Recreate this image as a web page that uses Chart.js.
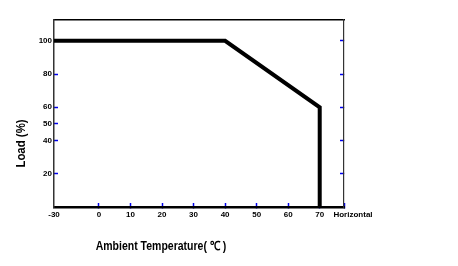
<!DOCTYPE html>
<html>
<head>
<meta charset="utf-8">
<script src="https://cdn.jsdelivr.net/npm/chart.js@4/dist/chart.umd.min.js"></script>
<style>
  html, body { margin: 0; padding: 0; background: #fff; }
  canvas { display: block; }
</style>
</head>
<body>
<canvas id="c" width="458" height="266"></canvas>
<script>
// ---- data ----
const xTickLabels = ['-30', '0', '10', '20', '30', '40', '50', '60', '70'];
const yTickValues = [20, 40, 50, 60, 80, 100];
const yRightTicks = [20, 40, 60, 80, 100];
const tempC   = [-30, 40, 70, 70];   // ambient temperature (°C)
const loadPct = [100, 100, 60, 0];   // load (%)

// broken x axis: the -30 end is drawn compressed at the axis start
const X_AXIS_START = -14.25;
const X_AXIS_END = 77.7;
const Y_MAX = 112.5;
const xPos = v => (v < 0 ? v * X_AXIS_START / -30 : v);
const xTickValues = xTickLabels.map(Number).map(xPos);

const BLUE = '#0000ee';
const tickFont = { family: "'Liberation Sans', Arial, sans-serif", size: 8, weight: 'bold' };

const titles = {
  id: 'titles',
  afterDraw(chart) {
    const ctx = chart.ctx, a = chart.chartArea;
    ctx.save();
    ctx.fillStyle = '#000';
    ctx.textAlign = 'center';
    ctx.textBaseline = 'middle';
    ctx.font = "bold 12.5px 'Liberation Sans', Arial, sans-serif";
    ctx.save();
    ctx.translate(a.left + 107, a.bottom + 40);
    ctx.scale(0.84, 1);
    ctx.fillText('Ambient Temperature( ℃ )', 0, 0);
    ctx.restore();
    ctx.font = "bold 12px 'Liberation Sans', Arial, sans-serif";
    ctx.save();
    ctx.translate(22, (a.top + a.bottom) / 2 + 30);
    ctx.rotate(-Math.PI / 2);
    ctx.scale(0.95, 1);
    ctx.fillText('Load (%)', 0, 0);
    ctx.restore();
    ctx.font = "bold 8px 'Liberation Sans', Arial, sans-serif";
    ctx.fillText('Horizontal', a.right + 9, a.bottom + 7.5);
    ctx.restore();
  }
};

new Chart(document.getElementById('c'), {
  type: 'line',
  data: {
    datasets: [{
      data: tempC.map((t, i) => ({ x: xPos(t), y: loadPct[i] })),
      borderColor: '#000',
      borderWidth: 4,
      pointRadius: 0,
      tension: 0,
      fill: false
    }]
  },
  plugins: [titles],
  options: {
    responsive: false,
    animation: false,
    layout: { padding: { left: 0, top: 20, right: 114, bottom: 0 } },
    plugins: { legend: { display: false }, tooltip: { enabled: false } },
    scales: {
      x: {
        type: 'linear', position: 'bottom',
        min: X_AXIS_START, max: X_AXIS_END,
        afterBuildTicks: s => { s.ticks = xTickValues.concat([X_AXIS_END]).map(v => ({ value: v })); },
        afterFit: s => { s.height = 59; },
        ticks: {
          autoSkip: false, maxRotation: 0, padding: 6.5, color: '#000', font: tickFont,
          callback: (v, i) => (i < xTickLabels.length ? xTickLabels[i] : '')
        },
        grid: {
          drawOnChartArea: false, tickLength: -4, tickWidth: 1.5,
          tickColor: c => (c.tick && c.tick.value === X_AXIS_START ? 'rgba(0,0,0,0)' : BLUE)
        },
        border: { color: '#000', width: 2.5 }
      },
      xTop: {
        type: 'linear', position: 'top',
        min: X_AXIS_START, max: X_AXIS_END,
        afterFit: s => { s.height = 0; },
        ticks: { display: false },
        grid: { display: false },
        border: { color: '#000', width: 1.5 }
      },
      y: {
        type: 'linear', position: 'left',
        min: 0, max: Y_MAX,
        afterBuildTicks: s => { s.ticks = yTickValues.map(v => ({ value: v })); },
        afterFit: s => { s.width = 54; },
        ticks: { padding: 6, color: '#000', font: tickFont, callback: v => String(v) },
        grid: { drawOnChartArea: false, tickLength: -4, tickWidth: 1.5, tickColor: BLUE },
        border: { color: '#333', width: 1.5 }
      },
      yRight: {
        type: 'linear', position: 'right',
        min: 0, max: Y_MAX,
        afterBuildTicks: s => { s.ticks = yRightTicks.map(v => ({ value: v })); },
        afterFit: s => { s.width = 0; },
        ticks: { display: false },
        grid: { drawOnChartArea: false, tickLength: -4, tickWidth: 1.5, tickColor: BLUE },
        border: { color: '#333', width: 1.2 }
      }
    }
  }
});
</script>
</body>
</html>
